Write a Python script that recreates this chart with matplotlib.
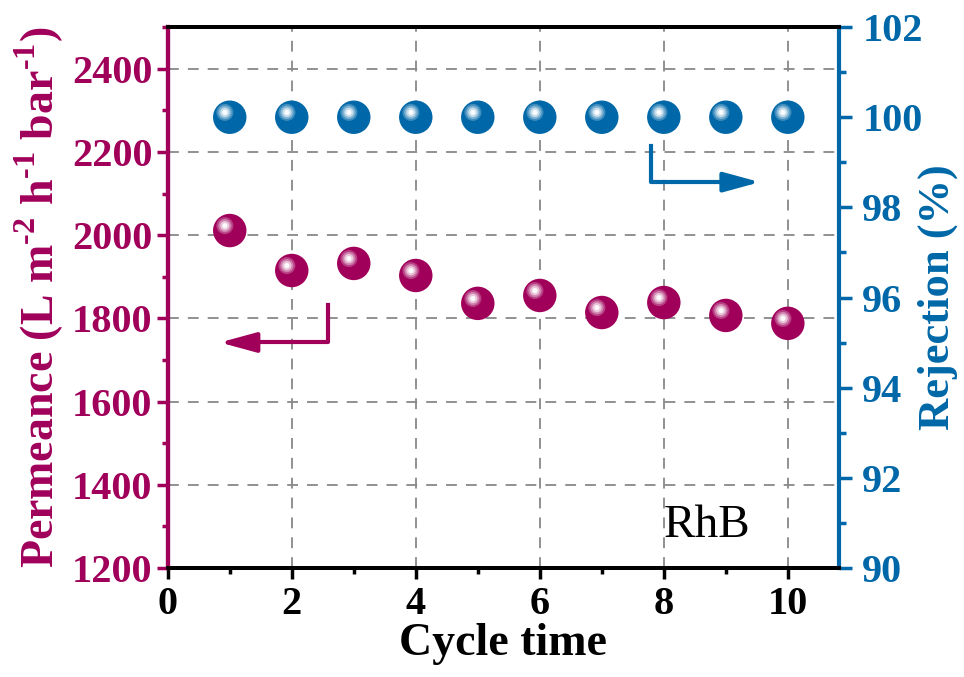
import matplotlib.pyplot as plt
import numpy as np
from matplotlib.ticker import MultipleLocator
from matplotlib.transforms import offset_copy

plt.rcParams["font.family"] = ["Liberation Serif", "DejaVu Serif"]
plt.rcParams["font.weight"] = "bold"
plt.rcParams["mathtext.fontset"] = "custom"
plt.rcParams["mathtext.rm"] = "Liberation Serif:bold"
plt.rcParams["mathtext.bf"] = "Liberation Serif:bold"

PERM_COLOR = "#A0005A"
REJ_COLOR = "#0068A8"

cycles = [1, 2, 3, 4, 5, 6, 7, 8, 9, 10]
permeance = [2011, 1915, 1932, 1903, 1836, 1855, 1814, 1838, 1807, 1788]
rejection = [100, 100, 100, 100, 100, 100, 100, 100, 100, 100]


def sphere(ax, fig, x, y, color, size=580):
    # base ball plus a soft specular highlight shifted up-left
    ax.scatter(x, y, s=size, color=color, edgecolors="none", zorder=5, clip_on=False)
    hl = offset_copy(ax.transData, fig=fig, x=-3.5, y=3.5, units="points")
    for s, a in [(150, 0.25), (90, 0.35), (45, 0.55), (14, 0.9)]:
        ax.scatter(x, y, s=s, color="white", alpha=a, edgecolors="none",
                   transform=hl, zorder=6, clip_on=False)


fig, ax = plt.subplots(figsize=(9.64, 6.77), dpi=100)
fig.subplots_adjust(left=0.174, right=0.87, top=0.96, bottom=0.161)
ax2 = ax.twinx()

ax.set_xlim(0, 10.82)
ax.set_ylim(1200, 2500)
ax2.set_ylim(90, 102)

ax.xaxis.set_major_locator(MultipleLocator(2))
ax.xaxis.set_minor_locator(MultipleLocator(1))
ax.yaxis.set_major_locator(MultipleLocator(200))
ax.yaxis.set_minor_locator(MultipleLocator(100))
ax2.yaxis.set_major_locator(MultipleLocator(2))
ax2.yaxis.set_minor_locator(MultipleLocator(1))

ax.grid(True, which="major", color="#888888", linestyle=(0, (6, 5)), linewidth=1.3)
ax.set_axisbelow(True)

sphere(ax, fig, cycles, permeance, PERM_COLOR)
sphere(ax2, fig, cycles, rejection, REJ_COLOR)

# spines
for a in (ax, ax2):
    a.spines["top"].set_linewidth(2.8)
    a.spines["bottom"].set_linewidth(2.8)
ax2.spines["left"].set_color(PERM_COLOR)
ax2.spines["left"].set_linewidth(3)
ax2.spines["right"].set_color(REJ_COLOR)
ax2.spines["right"].set_linewidth(3)
ax.spines["left"].set_color(PERM_COLOR)
ax.spines["left"].set_linewidth(3)
ax.spines["right"].set_visible(False)

ax.tick_params(axis="x", which="major", direction="out", length=8, width=2.5,
               labelsize=29, pad=5, colors="black")
ax.tick_params(axis="x", which="minor", direction="out", length=4, width=2.5)
ax.tick_params(axis="y", which="major", direction="out", length=8, width=2.5,
               labelsize=29, pad=3, colors=PERM_COLOR)
ax.tick_params(axis="y", which="minor", direction="out", length=4, width=2.5,
               colors=PERM_COLOR)
ax2.tick_params(axis="y", which="major", direction="out", length=9, width=2.5,
                labelsize=29, pad=8, colors=REJ_COLOR)
ax2.tick_params(axis="y", which="minor", direction="out", length=5, width=2.5,
                colors=REJ_COLOR)

ax.set_xlabel("Cycle time", fontsize=33, fontweight="bold", labelpad=0)
ax.set_ylabel(r"Permeance (L m$^{\text{-2}}$ h$^{\text{-1}}$ bar$^{\text{-1}}$)",
              fontsize=33, fontweight="bold", color=PERM_COLOR, labelpad=4)
ax2.set_ylabel("Rejection (%)", fontsize=32, fontweight="bold", color=REJ_COLOR)
ax2.yaxis.set_label_coords(1.117, 0.5)

# direction arrows
ax.plot([2.58, 2.58, 1.3], [1831, 1742, 1742], color=PERM_COLOR, lw=3, zorder=4)
ax.annotate("", xy=(0.84, 1742), xytext=(1.4, 1742),
            arrowprops=dict(arrowstyle="-|>,head_length=2.2,head_width=0.6",
                            color=PERM_COLOR, lw=3, shrinkA=0, shrinkB=0))
ax2.plot([7.79, 7.79, 9.0], [99.36, 98.56, 98.56], color=REJ_COLOR, lw=3, zorder=4)
ax2.annotate("", xy=(9.55, 98.56), xytext=(8.9, 98.56),
             arrowprops=dict(arrowstyle="-|>,head_length=2.2,head_width=0.6",
                             color=REJ_COLOR, lw=3, shrinkA=0, shrinkB=0))

ax.text(8.7, 1274, "RhB", fontsize=34, fontweight="normal", ha="center", va="baseline")

fig.savefig("out.png", dpi=100)
